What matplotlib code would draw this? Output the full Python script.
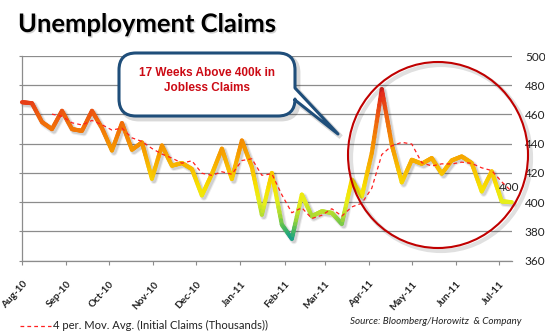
import numpy as np
import pandas as pd
import matplotlib
matplotlib.use("Agg")
import matplotlib.pyplot as plt
import matplotlib.dates as mdates
import matplotlib.patheffects as pe
from matplotlib.collections import LineCollection
from matplotlib.colors import LinearSegmentedColormap
from matplotlib.patches import PathPatch, Ellipse
from matplotlib.path import Path
from matplotlib.lines import Line2D
from matplotlib import transforms

# weekly initial claims (thousands), Aug-10 .. Jul-11
weeks = pd.date_range("2010-08-01", periods=50, freq="7D")
claims = [468.4, 467.7, 454.8, 450.0, 462.5, 450.0, 448.8, 462.5, 450.7, 435.4,
          454.1, 435.9, 440.9, 416.1, 438.8, 425.0, 426.8, 422.7, 404.7, 419.3,
          436.6, 415.9, 442.2, 424.1, 391.5, 420.0, 384.7, 375.0, 405.2, 390.4,
          393.8, 392.7, 385.2, 415.4, 404.0, 433.6, 477.3, 439.3, 413.6, 429.0,
          426.3, 430.2, 419.5, 428.6, 431.3, 426.8, 407.4, 421.1, 400.6, 400.0]
month_ticks = pd.date_range("2010-08-01", "2011-07-01", freq="MS")
y_ticks = [360, 380, 400, 420, 440, 460, 480, 500]

W, H = 545, 333
GRID = "#8c8c8c"

fig = plt.figure(figsize=(W / 100, H / 100), dpi=100)
ax = fig.add_axes([22 / W, (H - 260.7) / H, (511.7 - 22) / W, (260.7 - 56) / H])

x = mdates.date2num(weeks)
y = np.array(claims)
ma = pd.Series(claims).rolling(4).mean()

# shadow under the main line
shadow_tr = transforms.offset_copy(ax.transData, fig, x=2, y=-2, units="dots")
for lw, a in [(5.0, 0.07), (3.5, 0.12)]:
    ax.plot(x, y, color="black", lw=lw, alpha=a, transform=shadow_tr,
            solid_capstyle="round", solid_joinstyle="round", zorder=2, clip_on=False)

# gradient coloured line (colour by value)
stops = [(375, "#139c8c"), (382, "#4dbb5a"), (390, "#a6d936"), (400, "#e6ef1c"),
         (410, "#f8e200"), (422, "#f8bf00"), (438, "#f59400"), (455, "#f06a0c"),
         (478, "#e01e1e")]
lo, hi = stops[0][0], stops[-1][0]
cmap = LinearSegmentedColormap.from_list(
    "claims", [((v - lo) / (hi - lo), c) for v, c in stops])
segs, cols = [], []
n = 12
for i in range(len(x) - 1):
    t = np.linspace(0, 1, n + 1)
    xs = x[i] + (x[i + 1] - x[i]) * t
    ys = y[i] + (y[i + 1] - y[i]) * t
    for k in range(n):
        segs.append([(xs[k], ys[k]), (xs[k + 1], ys[k + 1])])
        cols.append(cmap(((ys[k] + ys[k + 1]) / 2 - lo) / (hi - lo)))
lc = LineCollection(segs, colors=cols, linewidths=3.0, capstyle="round", zorder=3)
lc.set_clip_on(False)
ax.add_collection(lc)

# 4 period moving average
ax.plot(x, ma, color="#ff2020", lw=0.9, ls=(0, (3, 2.5)), zorder=4)

ax.annotate(f"{claims[-1]:.0f}", xy=(x[-1], claims[-1]), xytext=(-1.5, 10.5),
            textcoords="offset points", ha="center", va="center",
            fontsize=8.5, family="Lato", color="#222222")

ax.set_xlim(x[0], x[-1])
ax.set_ylim(360, 500)
ax.set_yticks(y_ticks)
ax.set_yticklabels([str(v) for v in y_ticks], family="Lato", fontsize=8.5, color="#222222")
ax.grid(axis="y", color=GRID, lw=0.9)
ax.set_axisbelow(True)
ax.tick_params(axis="y", left=True, right=False, labelleft=False, labelright=True,
               length=2.5, color=GRID, pad=7)

# month ticks, labels drawn as rotated texts anchored at their end
tick_x = mdates.date2num(month_ticks)
ax.set_xticks(tick_x)
ax.set_xticklabels([])
ax.tick_params(axis="x", length=3, color=GRID)
lab_tr = transforms.offset_copy(ax.get_xaxis_transform(), fig, x=3.5, y=-22, units="dots")
for tx, d in zip(tick_x, month_ticks):
    ax.text(tx, 0, d.strftime("%b-%y"), transform=lab_tr, rotation=48,
            rotation_mode="anchor", ha="right", va="center", fontweight="bold",
            fontsize=7.2, family="Lato", color="#222222", clip_on=False)

for s in ["top", "right"]:
    ax.spines[s].set_visible(False)
for s in ["left", "bottom"]:
    ax.spines[s].set_color(GRID)
    ax.spines[s].set_linewidth(0.9)

# overlay in pixel coordinates for annotations
ov = fig.add_axes([0, 0, 1, 1], zorder=5)
ov.set_xlim(0, W)
ov.set_ylim(H, 0)
ov.axis("off")
ov.patch.set_alpha(0)

# title
fig.text(18 / W, 1 - 32 / H, "Unemployment Claims", fontsize=18.4, fontweight="bold",
         family="Lato", va="baseline",
         path_effects=[pe.withSimplePatchShadow(offset=(1, -1), shadow_rgbFace="gray", alpha=0.35)])

# callout box with tail
x0, x1, y0, y1, r = 119, 295, 53, 116, 17
ya, yb, tip = 88, 100, (338, 134)
verts = [(x0 + r, y0), (x1 - r, y0), (x1, y0), (x1, y0 + r), (x1, ya), tip, (x1, yb),
         (x1, y1 - r), (x1, y1), (x1 - r, y1), (x0 + r, y1), (x0, y1), (x0, y1 - r),
         (x0, y0 + r), (x0, y0), (x0 + r, y0), (x0 + r, y0)]
codes = [Path.MOVETO, Path.LINETO, Path.CURVE3, Path.CURVE3, Path.LINETO, Path.LINETO,
         Path.LINETO, Path.LINETO, Path.CURVE3, Path.CURVE3, Path.LINETO, Path.CURVE3,
         Path.CURVE3, Path.LINETO, Path.CURVE3, Path.CURVE3, Path.CLOSEPOLY]
callout = Path(verts, codes)
shadow_path = Path([(vx + 3, vy + 3) for vx, vy in verts], codes)
ov.add_patch(PathPatch(shadow_path, facecolor="none", edgecolor="black", lw=3.5, alpha=0.15))
ov.add_patch(PathPatch(callout, facecolor="white", edgecolor="#1f4e7a", lw=2.2,
                       joinstyle="round"))
ov.text((x0 + x1) / 2, 80.5, "17 Weeks Above 400k in\nJobless Claims", ha="center",
        va="center", fontsize=8.5, fontweight="bold", family="Liberation Sans",
        color="#cc0a14", linespacing=1.25)

# highlight circle
ov.add_patch(Ellipse((441, 158), 180, 186, facecolor="none", edgecolor="black",
                     lw=3, alpha=0.12))
ov.add_patch(Ellipse((438, 155), 180, 186, facecolor="none", edgecolor="#c00000", lw=1.5))

# legend entry and source
ov.add_line(Line2D([20, 51], [325.5, 325.5], color="#ff2020", lw=0.9, ls=(0, (3, 2.5))))
ov.text(53, 325.5, "4 per. Mov. Avg. (Initial Claims (Thousands))", ha="left", va="center",
        fontsize=8.1, family="Lato", color="#222222")
ov.text(350, 322, "Source: Bloomberg/Horowitz  & Company", ha="left", va="center",
        fontsize=7.1, style="italic", family="Lato", color="#222222")

fig.savefig("out.png", dpi=100)
